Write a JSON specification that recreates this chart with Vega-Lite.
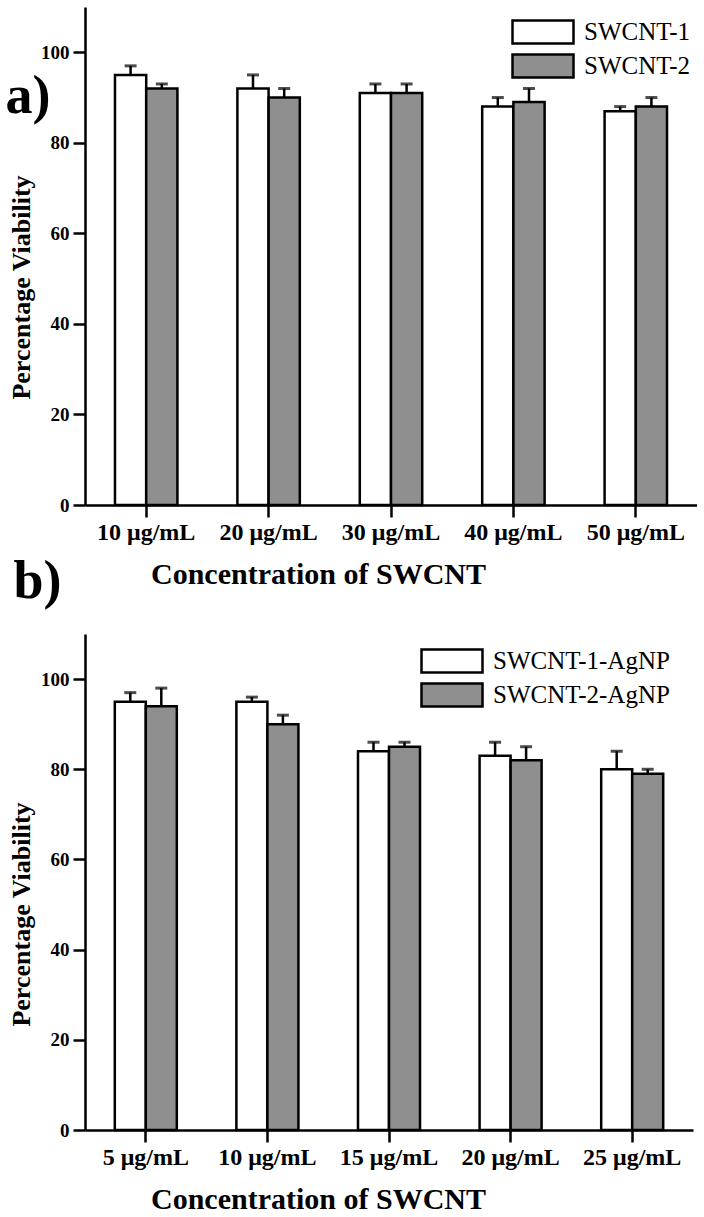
{
  "$schema": "https://vega.github.io/schema/vega-lite/v6.json",
  "padding": {"left": 5, "top": 7, "right": 0, "bottom": 0},
  "background": "white",
  "datasets": {
    "a": [
      {"conc": "10 μg/mL", "series": "SWCNT-1", "value": 95, "err": 97},
      {"conc": "10 μg/mL", "series": "SWCNT-2", "value": 92, "err": 93},
      {"conc": "20 μg/mL", "series": "SWCNT-1", "value": 92, "err": 95},
      {"conc": "20 μg/mL", "series": "SWCNT-2", "value": 90, "err": 92},
      {"conc": "30 μg/mL", "series": "SWCNT-1", "value": 91, "err": 93},
      {"conc": "30 μg/mL", "series": "SWCNT-2", "value": 91, "err": 93},
      {"conc": "40 μg/mL", "series": "SWCNT-1", "value": 88, "err": 90},
      {"conc": "40 μg/mL", "series": "SWCNT-2", "value": 89, "err": 92},
      {"conc": "50 μg/mL", "series": "SWCNT-1", "value": 87, "err": 88},
      {"conc": "50 μg/mL", "series": "SWCNT-2", "value": 88, "err": 90}
    ],
    "b": [
      {"conc": "5 μg/mL", "series": "SWCNT-1-AgNP", "value": 95, "err": 97},
      {"conc": "5 μg/mL", "series": "SWCNT-2-AgNP", "value": 94, "err": 98},
      {"conc": "10 μg/mL", "series": "SWCNT-1-AgNP", "value": 95, "err": 96},
      {"conc": "10 μg/mL", "series": "SWCNT-2-AgNP", "value": 90, "err": 92},
      {"conc": "15 μg/mL", "series": "SWCNT-1-AgNP", "value": 84, "err": 86},
      {"conc": "15 μg/mL", "series": "SWCNT-2-AgNP", "value": 85, "err": 86},
      {"conc": "20 μg/mL", "series": "SWCNT-1-AgNP", "value": 83, "err": 86},
      {"conc": "20 μg/mL", "series": "SWCNT-2-AgNP", "value": 82, "err": 85},
      {"conc": "25 μg/mL", "series": "SWCNT-1-AgNP", "value": 80, "err": 84},
      {"conc": "25 μg/mL", "series": "SWCNT-2-AgNP", "value": 79, "err": 80}
    ]
  },
  "config": {
    "view": {"stroke": null},
    "font": "Liberation Serif",
    "axis": {
      "grid": false,
      "domainColor": "black",
      "domainWidth": 2.5,
      "tickColor": "black",
      "tickWidth": 2.5,
      "tickSize": 12,
      "labelFont": "Liberation Serif",
      "labelFontWeight": "bold",
      "labelColor": "black",
      "titleFont": "Liberation Serif",
      "titleFontWeight": "bold",
      "titleColor": "black"
    },
    "axisX": {"labelAngle": 0, "labelFontSize": 24, "labelPadding": 3, "titleFontSize": 30, "titlePadding": 15, "titleX": 233},
    "axisY": {"labelFontSize": 19, "labelPadding": 4, "titleFontSize": 26, "titlePadding": 6, "titleY": 280},
    "legend": {
      "title": null,
      "orient": "none",
      "symbolType": "M-2.44,-0.92H2.44V0.92H-2.44Z",
      "symbolSize": 625,
      "symbolStrokeColor": "black",
      "symbolStrokeWidth": 2.5,
      "symbolOpacity": 1,
      "labelFont": "Liberation Serif",
      "labelFontSize": 25,
      "labelColor": "black",
      "labelOffset": 27,
      "rowPadding": 0,
      "labelLimit": 300
    },
    "title": {"font": "Liberation Serif", "fontWeight": "bold", "fontSize": 54, "color": "black", "anchor": "start", "frame": "bounds", "offset": 0, "baseline": "alphabetic"}
  },
  "vconcat": [
    {
      "title": {"text": "a)", "dy": 121, "dx": -3},
      "width": 612,
      "height": 498,
      "data": {"name": "a"},
      "encoding": {
        "x": {"field": "conc", "type": "nominal", "sort": null, "scale": {"paddingInner": 0.49, "paddingOuter": 0.245}, "axis": {"title": "Concentration of SWCNT"}},
        "xOffset": {"field": "series", "type": "nominal", "sort": null, "scale": {"paddingInner": 0, "paddingOuter": 0}}
      },
      "layer": [
        {
          "mark": {"type": "bar", "stroke": "black", "strokeWidth": 2.5},
          "encoding": {
            "y": {"field": "value", "type": "quantitative", "scale": {"domain": [0, 110], "nice": false}, "axis": {"title": "Percentage Viability", "values": [0, 20, 40, 60, 80, 100]}},
            "fill": {"field": "series", "type": "nominal", "scale": {"domain": ["SWCNT-1", "SWCNT-2"], "range": ["white", "#8f8f8f"]}, "legend": {"legendX": 444, "legendY": 11}}
          }
        },
        {
          "mark": {"type": "rule", "color": "black", "strokeWidth": 2.5},
          "encoding": {"y": {"field": "value", "type": "quantitative"}, "y2": {"field": "err"}}
        },
        {
          "mark": {"type": "tick", "color": "black", "orient": "horizontal", "size": 12, "thickness": 3},
          "encoding": {"y": {"field": "err", "type": "quantitative"}}
        }
      ]
    },
    {
      "title": {"text": "b)", "dy": -21, "dx": 5},
      "width": 608,
      "height": 496,
      "data": {"name": "b"},
      "encoding": {
        "x": {"field": "conc", "type": "nominal", "sort": null, "scale": {"paddingInner": 0.49, "paddingOuter": 0.245}, "axis": {"title": "Concentration of SWCNT"}},
        "xOffset": {"field": "series", "type": "nominal", "sort": null, "scale": {"paddingInner": 0, "paddingOuter": 0}}
      },
      "layer": [
        {
          "mark": {"type": "bar", "stroke": "black", "strokeWidth": 2.5},
          "encoding": {
            "y": {"field": "value", "type": "quantitative", "scale": {"domain": [0, 110], "nice": false}, "axis": {"title": "Percentage Viability", "values": [0, 20, 40, 60, 80, 100]}},
            "fill": {"field": "series", "type": "nominal", "scale": {"domain": ["SWCNT-1-AgNP", "SWCNT-2-AgNP"], "range": ["white", "#8f8f8f"]}, "legend": {"legendX": 353, "legendY": 13}}
          }
        },
        {
          "mark": {"type": "rule", "color": "black", "strokeWidth": 2.5},
          "encoding": {"y": {"field": "value", "type": "quantitative"}, "y2": {"field": "err"}}
        },
        {
          "mark": {"type": "tick", "color": "black", "orient": "horizontal", "size": 12, "thickness": 3},
          "encoding": {"y": {"field": "err", "type": "quantitative"}}
        }
      ]
    }
  ],
  "bounds": "flush",
  "spacing": 129,
  "resolve": {"scale": {"x": "independent", "xOffset": "independent", "y": "independent", "fill": "independent"}, "legend": {"fill": "independent"}}
}
